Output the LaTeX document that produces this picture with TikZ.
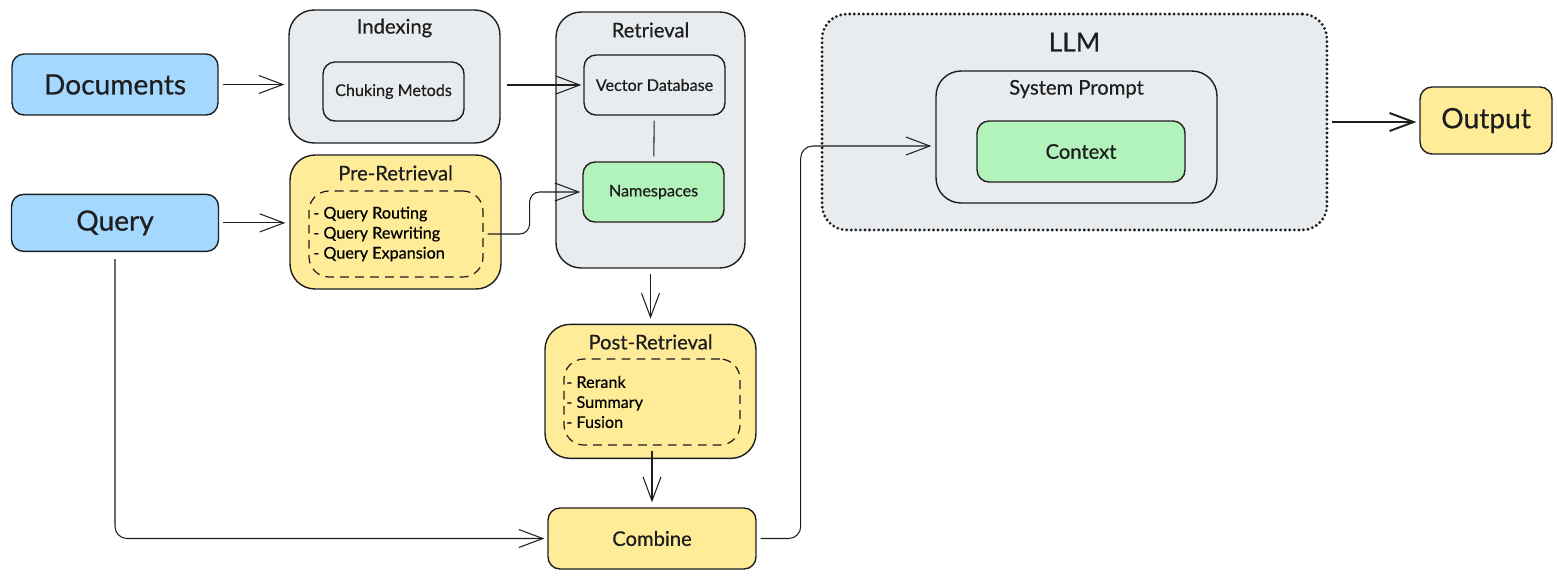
\documentclass[tikz,border=0pt]{standalone}
\usepackage{fontspec}
\setmainfont{Lato}[FakeBold=0.5]
\usepackage{tikz}
\usetikzlibrary{arrows.meta, positioning}

\definecolor{boxBlue}{HTML}{A5D8FF}
\definecolor{boxYellow}{HTML}{FFEC99}
\definecolor{boxGreen}{HTML}{B2F2BB}
\definecolor{boxGray}{HTML}{E9ECEF}
\definecolor{inkBlack}{HTML}{1E1E1E}

\tikzset{
  box/.style={draw=inkBlack, line width=0.8pt, rounded corners=0.24cm, inner sep=0pt, text=inkBlack},
  group/.style={box, rounded corners=0.5cm},
  title/.style={text=inkBlack, font=\fontsize{11.5}{13}\selectfont},
  small/.style={font=\fontsize{9.2}{11.4}\selectfont},
  listbox/.style={draw=inkBlack, line width=0.7pt, dash pattern=on 5pt off 3.5pt, rounded corners=0.4cm, inner sep=0pt},
  arr/.style={-{Straight Barb[length=0.48cm, width=0.36cm]}, draw=inkBlack, line width=0.6pt}
}

\begin{document}
\begin{tikzpicture}[x=0.02cm, y=-0.02cm, node distance=1cm]
		\useasboundingbox (0,0) rectangle (1557,579);

		\node[box, fill=boxBlue, minimum width=4.12cm, minimum height=1.22cm, font=\fontsize{16}{18}\selectfont] (docs) at (115,84.5) {Documents};
		\node[box, fill=boxBlue, minimum width=4.14cm, minimum height=1.14cm, font=\fontsize{16}{18}\selectfont, below = 1.56cm of docs] (query) {Query};

		\node[group, fill=boxGray, minimum width=4.22cm, minimum height=2.66cm] (indexing) at (394.5,76.5) {};
		\node[title] (indexingTitle) at (394.5,28) {Indexing};
		\node[box, fill=boxGray, small, minimum width=2.82cm, minimum height=1.18cm] (chunking) at (393.5,91.5) {Chuking Metods};

		\node[group, fill=boxYellow, minimum width=4.22cm, minimum height=2.68cm] (preRetrieval) at (395.5,222) {};
		\node[title] (preTitle) at (395.5,173) {Pre-Retrieval};
		\node[listbox, minimum width=3.48cm, minimum height=1.72cm] (preList) at (396,234) {};
		\node[small, align=left, anchor=west, inner sep=0pt] (preItems) at (313,234) {- Query Routing\\- Query Rewriting\\- Query Expansion};

		\node[group, fill=boxGray, minimum width=3.78cm, minimum height=5.12cm] (retrieval) at (650.5,140) {};
		\node[title] (retrievalTitle) at (650.5,30) {Retrieval};
		\node[box, fill=boxGray, small, minimum width=2.82cm, minimum height=1.2cm] (vectorDb) at (654.5,85) {Vector Database};
		\node[box, fill=boxGreen, small, minimum width=2.82cm, minimum height=1.2cm] (namespaces) at (653.5,192) {Namespaces};

		\node[group, fill=boxYellow, minimum width=4.22cm, minimum height=2.68cm, below = 1.1cm of retrieval] (postRetrieval) {};
		\node[title] (postTitle) at (650.5,342) {Post-Retrieval};
		\node[listbox, minimum width=3.52cm, minimum height=1.72cm] (postList) at (652,402) {};
		\node[small, align=left, anchor=west, inner sep=0pt] (postItems) at (566,402) {- Rerank\\- Summary\\- Fusion};

		\node[box, fill=boxYellow, title, minimum width=4.16cm, minimum height=1.22cm] (combine) at (652,538.5) {Combine};

		\node[group, fill=boxGray, line width=1.8pt, dash pattern=on 0pt off 2.6pt, line cap=round, minimum width=10.1cm, minimum height=4.32cm] (llm) at (1074.5,122) {};
		\node[text=inkBlack, font=\fontsize{15}{17}\selectfont] (llmTitle) at (1074.5,42) {LLM};
		\node[group, fill=boxGray, minimum width=5.62cm, minimum height=2.64cm] (sysPrompt) at (1076.5,137) {};
		\node[title] (sysTitle) at (1076.5,89) {System Prompt};
		\node[box, fill=boxGreen, title, minimum width=4.16cm, minimum height=1.22cm] (context) at (1081,151.5) {Context};

		\node[box, fill=boxYellow, minimum width=2.64cm, minimum height=1.34cm, font=\fontsize{16}{18}\selectfont] (output) at (1486,120.5) {Output};

		\draw[arr, shorten <=0.08cm, shorten >=0.08cm] (docs.east) to (docs.east -| indexing.west);
		\draw[arr, shorten <=0.08cm, shorten >=0.08cm] (query.east) to (query.east -| preRetrieval.west);
		\draw[arr, shorten <=0.12cm, shorten >=0.04cm] (vectorDb.west -| indexing.east) to (vectorDb.west);
		\draw[draw=inkBlack, line width=0.6pt, shorten <=0.1cm, shorten >=0.1cm] (vectorDb) to (namespaces);
		\draw[arr, rounded corners=0.2cm, shorten <=0.08cm, shorten >=0.04cm] (preList.east) -- ++(46,0) |- (namespaces.west);
		\draw[arr, shorten <=0.1cm, shorten >=0.1cm] (retrieval) to (postRetrieval);
		\draw[arr, shorten <=0.1cm, shorten >=0.1cm] (postList.south) to (combine.north);
		\draw[arr, rounded corners=0.24cm, shorten <=0.14cm, shorten >=0.06cm] (query.south) |- (combine.west);
		\draw[arr, rounded corners=0.24cm, shorten <=0.08cm, shorten >=0.08cm] (combine.east) -- ++(44,0) |- ([yshift=-0.18cm]sysPrompt.west);
		\draw[arr, line width=1.1pt, shorten <=0.06cm, shorten >=0.06cm] (llm.east) to (llm.east -| output.west);

	\end{tikzpicture}
\end{document}
